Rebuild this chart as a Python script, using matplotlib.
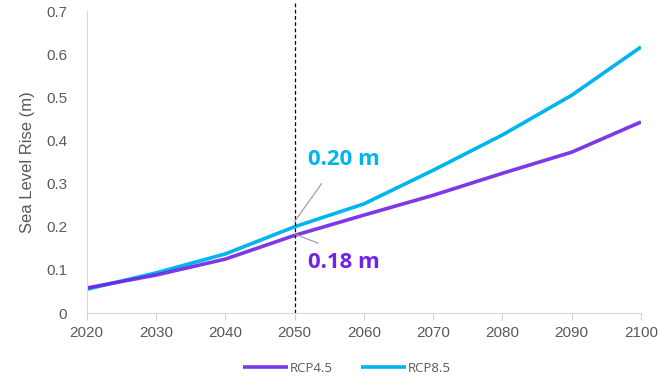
import matplotlib.pyplot as plt

years = [2020, 2030, 2040, 2050, 2060, 2070, 2080, 2090, 2100]
rcp45 = [0.058, 0.088, 0.125, 0.18, 0.227, 0.273, 0.324, 0.373, 0.443]
rcp85 = [0.055, 0.093, 0.137, 0.20, 0.253, 0.331, 0.413, 0.505, 0.617]

purple = '#7022E6'
cyan = '#00B4F0'
grey = '#595959'

plt.rcParams['font.family'] = ['Liberation Sans', 'DejaVu Sans']

fig = plt.figure(figsize=(6.67, 3.85), dpi=100)
ax = fig.add_axes([0.130, 0.187, 0.831, 0.784])

ax.plot(years, rcp85, color=cyan, lw=2.6, label='RCP8.5', solid_capstyle='butt')
ax.plot(years, rcp45, color=purple, lw=2.6, label='RCP4.5', solid_capstyle='butt', alpha=0.9)

ax.axvline(2050, ymin=0, ymax=1.03, color='black', lw=0.9, ls=(0, (3, 2)), clip_on=False)

ax.set_xlim(2020, 2100)
ax.set_ylim(0, 0.7)
ax.set_xticks(years)
ax.set_yticks([0, 0.1, 0.2, 0.3, 0.4, 0.5, 0.6, 0.7])
ax.set_yticklabels(['0', '0.1', '0.2', '0.3', '0.4', '0.5', '0.6', '0.7'])
ax.tick_params(axis='both', colors=grey, labelsize=11)
ax.tick_params(axis='y', length=0, pad=14)
ax.tick_params(axis='x', length=5, color='#d0d0d0', pad=4)
for s in ['top', 'right']:
    ax.spines[s].set_visible(False)
for s in ['left', 'bottom']:
    ax.spines[s].set_color('#d9d9d9')
ax.set_ylabel('Sea Level Rise (m)', color=grey, fontsize=12, labelpad=8)

# leader lines + labels for the 2050 values
lead = dict(arrowstyle='-', color='#a0a0a0', lw=0.9, shrinkA=0, shrinkB=0)
ax.annotate('', xy=(2050, rcp85[3] + 0.012), xytext=(2053.9, 0.30), arrowprops=lead)
ax.annotate('', xy=(2050, rcp45[3] + 0.003), xytext=(2053.4, 0.162), arrowprops=lead)
bold = dict(fontsize=16, fontweight='bold', family=['Open Sans', 'DejaVu Sans'], va='center')
ax.text(2052.0, 0.355, '0.20 m', color=cyan, **bold)
ax.text(2052.0, 0.116, '0.18 m', color=purple, **bold)

handles, labels = ax.get_legend_handles_labels()
fig.legend(handles[::-1], labels[::-1], loc='lower center', bbox_to_anchor=(0.52, -0.005), ncol=2,
           frameon=False, handlelength=3.4, handletextpad=0.1, columnspacing=2.2,
           labelcolor=grey, prop={'family': ['Open Sans', 'DejaVu Sans'], 'size': 9.5})

fig.savefig('out.png', dpi=100)
